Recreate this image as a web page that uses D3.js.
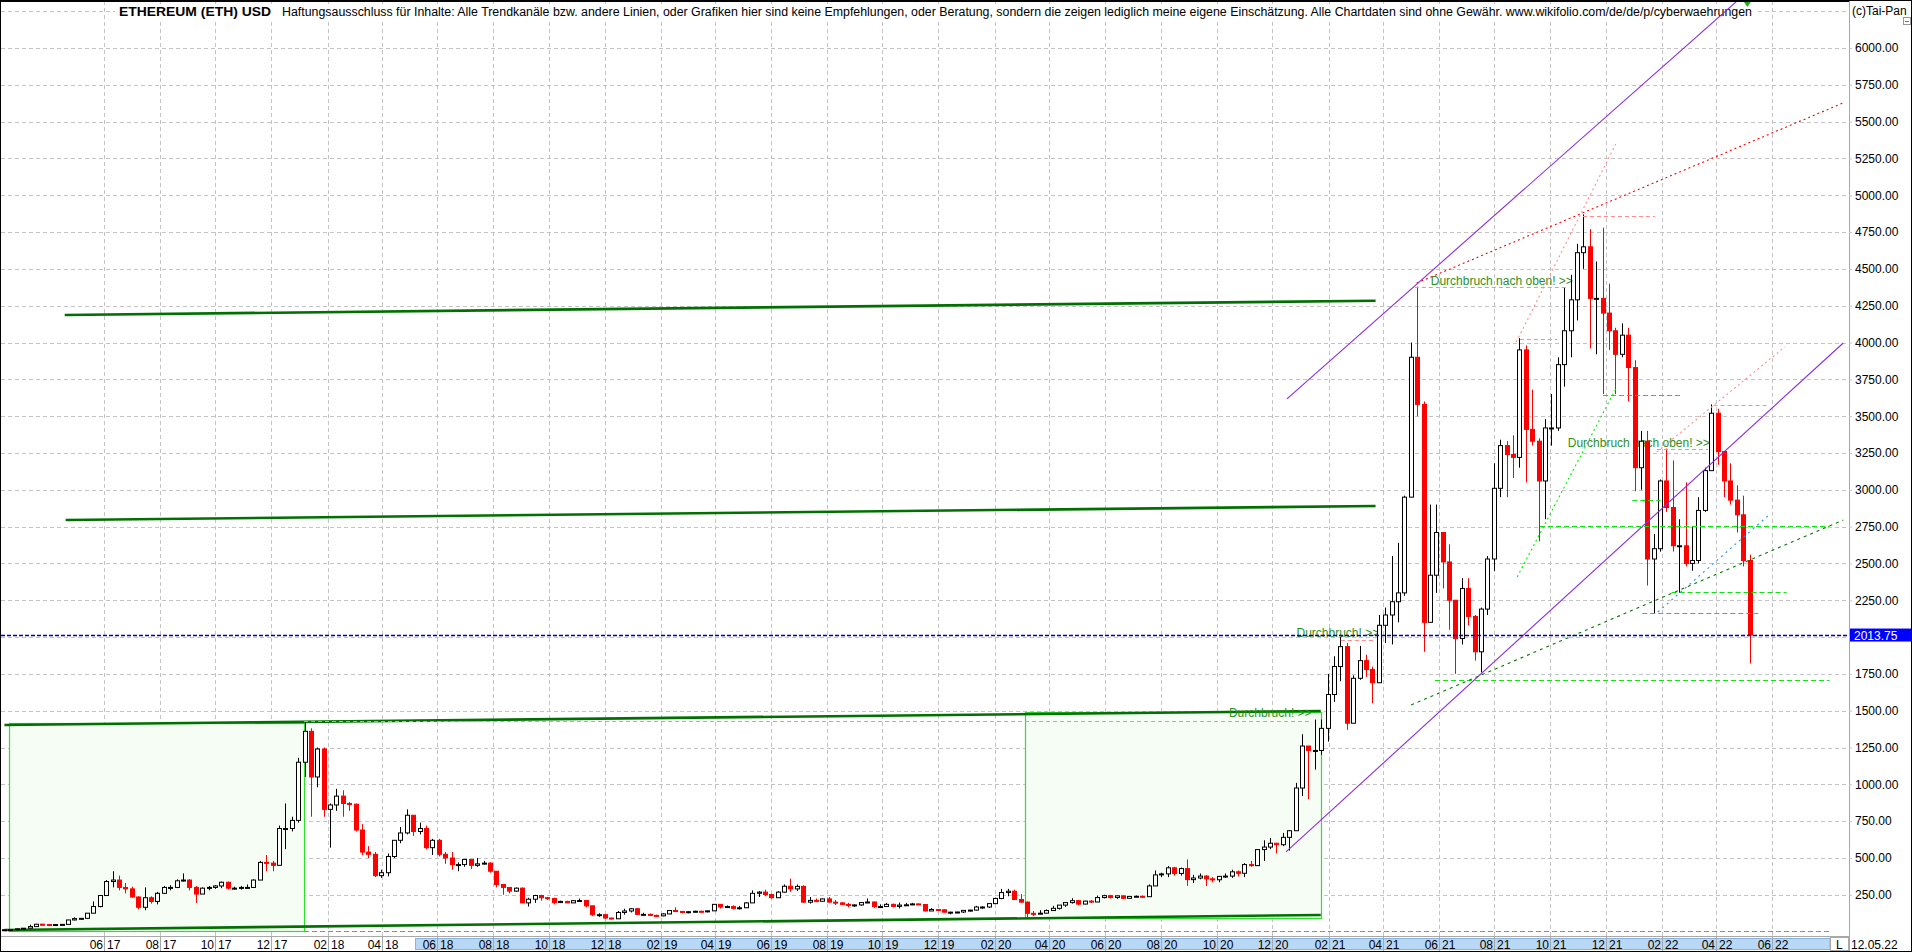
<!DOCTYPE html>
<html><head><meta charset="utf-8">
<script src="https://cdn.jsdelivr.net/npm/d3@7"></script>
<style>
html,body{margin:0;padding:0;background:#fff;overflow:hidden}
svg{display:block;font-family:"Liberation Sans",Arial,sans-serif}
</style></head><body>
<svg id="c" width="1912" height="952"></svg>
<script>
// ---------------- DATA ----------------
const titleText = "ETHEREUM (ETH) USD";
const disclaimerText = "Haftungsausschluss für Inhalte: Alle Trendkanäle bzw. andere Linien, oder Grafiken hier sind keine Empfehlungen, oder Beratung, sondern die zeigen lediglich meine eigene Einschätzung. Alle Chartdaten sind ohne Gewähr.  www.wikifolio.com/de/de/p/cyberwaehrungen";
const copyrightText = "(c)Tai-Pan";
const lastDateText = "12.05.22";
const lastPrice = 2013.75;

const firstWeek = "2017-02-13", lastWeek = "2022-05-09";
const firstOpen = 12.5;

const close2017 = [12.8,13.2,19.2,23,34,50,48,44,48,49,79,88,90,125,170,245,340,350,300,290,235,165,230,205,260,300,300,345,350,300,255,295,300,310,335,295,295,300,300,350,470,465,450,700,700,755];
const high2017  = [13.5,14,19.5,23,47,53,53,49,50,50,80,97,92,126,205,248,350,410,380,330,305,240,300,240,270,310,315,355,395,355,310,300,310,315,340,340,305,310,320,355,480,520,480,720,870,780];
const low2017   = [12.3,12.5,13.1,18,23,32,47,42,43,47,49,77,83,86,125,165,245,300,280,260,230,150,145,190,185,255,280,295,340,280,195,255,280,290,295,285,285,285,290,300,350,410,410,450,560,680];

const close2018 = [1150,1360,1050,1240,830,860,920,870,865,690,540,525,380,400,510,620,670,790,680,700,570,620,525,500,455,455,490,450,460,465,410,320,300,275,295,195,220,245,230,225,197,205,195,210,211,175,115,115,92,87,130,140,155];
const high2018  = [1180,1430,1380,1250,1250,870,970,960,880,870,730,580,540,420,530,620,710,830,790,740,720,630,630,540,540,470,490,490,500,480,470,410,320,300,300,300,230,250,250,235,230,210,210,215,225,215,175,125,115,95,140,155,160];
const low2018   = [740,1050,780,980,780,570,820,780,820,680,520,500,370,365,375,500,600,660,650,660,560,520,510,460,420,410,440,425,440,455,400,300,250,260,270,195,170,195,210,215,185,195,195,195,205,165,105,100,88,83,85,115,130];

const close2019 = [117,117,110,107,120,143,137,130,135,138,134,141,185,167,170,158,162,195,260,268,252,230,268,308,290,307,200,212,206,222,200,195,185,178,181,197,201,170,170,185,171,180,182,188,184,140,150,148,132,132,133,144];
const high2019  = [160,128,123,115,125,147,165,140,140,142,142,143,185,187,178,178,175,200,280,275,285,255,275,320,360,320,315,235,225,225,235,215,200,195,185,200,225,205,185,195,190,197,195,195,190,185,160,152,150,135,135,145];
const low2019   = [115,115,108,100,104,118,135,124,124,130,130,131,140,157,160,150,150,160,195,235,240,225,230,265,270,275,195,190,200,205,200,180,180,165,168,175,195,160,165,170,165,157,175,180,180,138,140,145,130,117,125,127];

const close2020 = [146,167,167,190,225,265,274,218,200,124,122,125,143,158,180,197,210,187,207,201,231,244,232,243,226,239,240,237,310,385,392,433,395,428,353,364,377,358,352,375,377,406,396,455,448,557,574,600,590,640,685,975];
const high2020  = [148,175,172,190,230,290,290,285,255,205,140,145,150,175,180,200,227,215,210,215,245,250,250,245,245,242,245,245,320,415,400,445,440,435,490,385,395,385,370,375,395,420,415,465,480,560,620,635,600,670,690,1010];
const low2020   = [136,143,155,160,187,220,240,215,197,90,105,118,125,150,150,168,190,180,185,195,200,225,225,222,220,222,237,232,235,310,370,370,380,380,310,330,355,310,335,335,365,365,375,370,440,445,480,560,530,580,550,710];

const close2021 = [1260,1230,1230,1380,1610,1800,1935,1415,1720,1840,1780,1690,2080,2150,2240,2300,2950,3900,3580,2100,2420,2710,2510,2250,1990,2330,2140,1900,2190,2530,3010,3300,3240,3220,3950,3410,3330,3060,3420,3420,3850,4080,4290,4610,4650,4300,4300,4200,4080,3920,4050,3830];
const high2021  = [1340,1260,1440,1440,1750,1870,2000,1960,1740,1940,1880,1800,2150,2200,2550,2640,2960,4000,4380,3600,2900,2900,2650,2630,2250,2400,2400,2150,2200,2550,3180,3340,3330,3370,4030,3980,3680,3350,3480,3650,3900,4370,4460,4670,4870,4770,4550,4780,4400,4100,4130,4100];
const low2021   = [920,900,1100,1200,1290,1560,1700,1370,1450,1710,1730,1550,1700,1960,1950,2100,2280,2950,3500,1900,2100,2300,2330,2050,1750,1950,2080,1840,1760,2150,2450,2950,2950,3080,3150,3050,3300,2650,2800,3300,3400,3700,3900,4150,4500,3960,3920,3650,3950,3650,3900,3600];

const close2022 = [3150,3330,2530,2600,3060,2880,2620,2620,2500,2520,2860,3130,3520,3260,3060,2930,2830,2520,2013.75];
const high2022  = [3880,3400,3400,2700,3070,3280,3200,2800,3050,2750,2950,3150,3580,3550,3260,3180,3030,2960,2560];
const low2022   = [2990,3000,2350,2160,2580,2850,2580,2300,2480,2450,2500,2850,3130,3170,2950,2900,2710,2480,1820];

const tickMonths = ["2017-06","2017-08","2017-10","2017-12","2018-02","2018-04","2018-06","2018-08","2018-10","2018-12",
  "2019-02","2019-04","2019-06","2019-08","2019-10","2019-12","2020-02","2020-04","2020-06","2020-08","2020-10","2020-12",
  "2021-02","2021-04","2021-06","2021-08","2021-10","2021-12","2022-02","2022-04","2022-06"];
const yTicks = [250,500,750,1000,1250,1500,1750,2000,2250,2500,2750,3000,3250,3500,3750,4000,4250,4500,4750,5000,5250,5500,5750,6000];

// drawn analysis objects (date, price)
const channelLines = [
  {from:["2017-04-19",4187], to:["2021-03-24",4284]},
  {from:["2017-04-20",2795], to:["2021-03-24",2890]},
  {from:["2017-02-12",1403], to:["2021-01-23",1498]},
  {from:["2017-02-12",11],   to:["2021-01-23",113]}
];
const rangeBoxes = [
  {from:["2017-02-17",4],  to:["2018-01-06",1417]},
  {from:["2020-03-05",95], to:["2021-01-23",1491]}
];
const resistances = [
  {from:["2018-01-06",1430], to:["2021-01-10",1430]},
  {from:["2021-02-14",1980], to:["2021-03-24",1980]},
  {from:["2021-05-06",4377], to:["2021-10-19",4377]},
  {from:["2021-08-29",4024], to:["2021-10-09",4024]},
  {from:["2021-11-06",4859], to:["2022-01-24",4859]},
  {from:["2022-01-26",3277], to:["2022-03-23",3277]},
  {from:["2022-03-29",3576], to:["2022-05-28",3576]}
];
const supports = [
  {from:["2018-01-06",4],    to:["2022-08-03",4]},
  {from:["2021-11-28",3644], to:["2022-02-22",3644]},
  {from:["2021-09-20",2754], to:["2022-08-03",2754]},
  {from:["2021-12-30",2931], to:["2022-01-30",2931]},
  {from:["2022-02-11",2306], to:["2022-06-17",2306]},
  {from:["2022-01-10",2164], to:["2022-05-17",2164]},
  {from:["2021-05-28",1709], to:["2022-08-03",1709]}
];
const trendLines = [
  {from:["2021-05-08",4404], to:["2022-08-18",5627], color:"#ff0000", dash:"2,3"},
  {from:["2020-12-17",3617], to:["2022-04-25",6326], color:"#8a2be2", dash:null},
  {from:["2020-12-16",541],  to:["2022-08-18",3997], color:"#8a2be2", dash:null},
  {from:["2021-08-25",4003], to:["2021-12-12",5348], color:"#ff8c8c", dash:"2,3"},
  {from:["2022-01-26",3257], to:["2022-06-15",3970], color:"#ff8c8c", dash:"2,3"},
  {from:["2021-08-26",2408], to:["2021-12-13",3698], color:"#00ee00", dash:"2,3"},
  {from:["2021-05-02",1539], to:["2022-08-18",2795], color:"#007a00", dash:"3,4"},
  {from:["2022-01-27",2170], to:["2022-05-30",2836], color:"#1e90ff", dash:"2,4"}
];
const notes = [
  {text:"Durchbruch! >>", at:["2021-01-13",1455]},
  {text:"Durchbruch! >>", at:["2021-03-28",1999]},
  {text:"Durchbruch nach oben! >>", at:["2021-10-26",4389]},
  {text:"Durchbruch nach oben! >>", at:["2022-03-25",3291]}
];
const markerDate = "2022-05-05";
const navBandStart = "2018-05-07";

// ---------------- BUILD ----------------
const P = s => new Date(s + "T00:00:00Z");
const closes = [].concat(close2017, close2018, close2019, close2020, close2021, close2022);
const highs  = [].concat(high2017, high2018, high2019, high2020, high2021, high2022);
const lows   = [].concat(low2017, low2018, low2019, low2020, low2021, low2022);
const weeks = d3.utcMonday.range(P(firstWeek), d3.utcDay.offset(P(lastWeek), 1));
const candles = weeks.map((w, i) => {
  const o = i === 0 ? firstOpen : closes[i - 1];
  const c = closes[i];
  return {date: d3.utcHour.offset(w, -36), o, c,
          h: Math.max(highs[i], o, c), l: Math.min(lows[i], o, c)};
});

const plotR = 1849, plotB = 936;
const x = d3.scaleUtc().domain([P("2017-06-01"), P("2022-06-01")]).range([104, 1772]);
const y = d3.scaleLinear().domain([0, 6000]).range([931.6, 48]);
const X = d => x(P(d)), Y = v => y(v);
const px = v => Math.round(v) + 0.5;

const svg = d3.select("#c");
svg.append("rect").attr("width", 1912).attr("height", 952).attr("fill", "#fff");
const defs = svg.append("defs");
defs.append("clipPath").attr("id", "plot").append("rect")
  .attr("x", 1).attr("y", 1).attr("width", plotR - 1).attr("height", plotB - 1);

const g = svg.append("g").attr("clip-path", "url(#plot)");

// grid
const tickDates = tickMonths.map(m => P(m + "-01"));
g.append("g").selectAll("line").data(yTicks.concat([6250])).join("line")
  .attr("x1", 1).attr("x2", plotR).attr("y1", d => px(y(d))).attr("y2", d => px(y(d)))
  .attr("stroke", "#c4c4c4").attr("stroke-dasharray", "4,3");
g.append("g").selectAll("line").data(tickDates).join("line")
  .attr("x1", d => px(x(d))).attr("x2", d => px(x(d))).attr("y1", 1).attr("y2", plotB)
  .attr("stroke", "#c4c4c4").attr("stroke-dasharray", "4,3");

// title (under the drawn lines)
g.append("rect").attr("x", 115).attr("y", 4).attr("width", 1642).attr("height", 15).attr("fill", "#fff");
g.append("text").attr("x", 119).attr("y", 16).attr("font-size", 12).attr("font-weight", "bold")
  .attr("textLength", 152).attr("lengthAdjust", "spacingAndGlyphs").text(titleText);
g.append("text").attr("x", 282).attr("y", 16).attr("font-size", 12)
  .attr("textLength", 1470).attr("lengthAdjust", "spacingAndGlyphs").text(disclaimerText);

// range boxes
g.append("g").selectAll("rect").data(rangeBoxes).join("rect")
  .attr("x", d => px(X(d.from[0]))).attr("y", d => px(Y(d.to[1])))
  .attr("width", d => Math.round(X(d.to[0]) - X(d.from[0])))
  .attr("height", d => Math.round(Y(d.from[1]) - Y(d.to[1])))
  .attr("fill", "#f5fdf5").attr("stroke", "#2ee02e").attr("stroke-width", 1.2);

// channel lines (thick dark green)
g.append("g").selectAll("line").data(channelLines).join("line")
  .attr("x1", d => X(d.from[0])).attr("y1", d => Y(d.from[1]))
  .attr("x2", d => X(d.to[0])).attr("y2", d => Y(d.to[1]))
  .attr("stroke", "#007000").attr("stroke-width", 2.6);

// notes
g.append("g").selectAll("text").data(notes).join("text")
  .attr("x", d => X(d.at[0])).attr("y", d => Y(d.at[1]))
  .attr("text-anchor", "end").attr("font-size", 12).attr("fill", "#2f8f1f")
  .text(d => d.text);

// candles
const cg = g.append("g");
candles.forEach(d => {
  const cx = Math.round(x(d.date));
  const up = d.c >= d.o;
  const col = up ? "#000" : "#ff0000";
  cg.append("line").attr("x1", cx + 0.5).attr("x2", cx + 0.5)
    .attr("y1", y(d.h)).attr("y2", y(d.l)).attr("stroke", col).attr("stroke-width", 1);
  const top = y(Math.max(d.o, d.c)), bot = y(Math.min(d.o, d.c));
  cg.append("rect").attr("x", cx - 1.5).attr("width", 4)
    .attr("y", top).attr("height", Math.max(1, bot - top))
    .attr("fill", up ? "#fff" : "#ff0000").attr("stroke", col).attr("stroke-width", 1);
});

// resistances / supports
g.append("g").selectAll("line").data(resistances).join("line")
  .attr("x1", d => X(d.from[0])).attr("x2", d => X(d.to[0]))
  .attr("y1", d => px(Y(d.from[1]))).attr("y2", d => px(Y(d.to[1])))
  .attr("stroke", "#ff8c8c").attr("stroke-dasharray", "4,3");
g.append("g").selectAll("line").data(supports).join("line")
  .attr("x1", d => X(d.from[0])).attr("x2", d => X(d.to[0]))
  .attr("y1", d => px(Y(d.from[1]))).attr("y2", d => px(Y(d.to[1])))
  .attr("stroke", "#11e011").attr("stroke-width", 1.1).attr("stroke-dasharray", "5,3");
// trend lines
g.append("g").selectAll("line").data(trendLines).join("line")
  .attr("x1", d => X(d.from[0])).attr("y1", d => Y(d.from[1]))
  .attr("x2", d => X(d.to[0])).attr("y2", d => Y(d.to[1]))
  .attr("stroke", d => d.color).attr("stroke-width", 1.1)
  .attr("stroke-dasharray", d => d.dash);
// last price line
g.append("line").attr("x1", 1).attr("x2", plotR)
  .attr("y1", px(y(lastPrice))).attr("y2", px(y(lastPrice)))
  .attr("stroke", "#0000b4").attr("stroke-width", 1.4).attr("stroke-dasharray", "4,2");

// marker at top
const mx = X(markerDate);
svg.append("path").attr("d", `M${mx - 4},1 L${mx + 4},1 L${mx},7 Z`).attr("fill", "#22aa22");

// right axis
svg.append("line").attr("x1", plotR + 0.5).attr("x2", plotR + 0.5).attr("y1", 0).attr("y2", 952).attr("stroke", "#a8a8a8");
const ya = svg.append("g").attr("transform", `translate(${plotR},0)`)
  .call(d3.axisRight(y).tickValues(yTicks).tickFormat(d3.format(".2f")).tickSize(3).tickPadding(3));
ya.select(".domain").remove();
ya.selectAll("text").attr("font-size", 12).attr("fill", "#000").attr("font-family", '"Liberation Sans",Arial,sans-serif');
ya.selectAll("line").attr("stroke", "#c4c4c4");
svg.append("text").attr("x", 1852).attr("y", 15).attr("font-size", 12).text(copyrightText);
svg.append("rect").attr("x", 1903.5).attr("y", 17.5).attr("width", 7).attr("height", 7).attr("fill", "#fff").attr("stroke", "#999");
svg.append("line").attr("x1", 1905).attr("x2", 1909).attr("y1", 21.5).attr("y2", 21.5).attr("stroke", "#777");
// last price label
svg.append("rect").attr("x", plotR + 1).attr("y", y(lastPrice) - 6.5).attr("width", 62).attr("height", 13).attr("fill", "#0000ff");
svg.append("text").attr("x", 1854).attr("y", y(lastPrice) + 4.5).attr("font-size", 12).attr("fill", "#fff")
  .text(d3.format(".2f")(lastPrice));

// x axis band
svg.append("line").attr("x1", 0).attr("x2", plotR).attr("y1", plotB + 0.5).attr("y2", plotB + 0.5).attr("stroke", "#a8a8a8");
svg.append("rect").attr("x", px(X(navBandStart))).attr("y", 938.5).attr("width", 1830 - Math.round(X(navBandStart)) - 0.5)
  .attr("height", 11).attr("fill", "#b9d8f6").attr("stroke", "#8ab2dc");
const xa = svg.append("g");
xa.selectAll("line").data(tickDates).join("line")
  .attr("x1", d => px(x(d))).attr("x2", d => px(x(d))).attr("y1", plotB).attr("y2", 951).attr("stroke", "#a8a8a8");
xa.selectAll("text.m").data(tickDates).join("text").attr("class", "m")
  .attr("x", d => Math.round(x(d)) - 1).attr("y", 948.5).attr("text-anchor", "end").attr("font-size", 12)
  .text(d3.utcFormat("%m"));
xa.selectAll("text.yy").data(tickDates).join("text").attr("class", "yy")
  .attr("x", d => Math.round(x(d)) + 3).attr("y", 948.5).attr("font-size", 12)
  .text(d3.utcFormat("%y"));
svg.append("rect").attr("x", 1830.5).attr("y", 937.5).attr("width", 18).attr("height", 13).attr("fill", "#fff").attr("stroke", "#a8a8a8");
svg.append("text").attr("x", 1836).attr("y", 948.5).attr("font-size", 12).text("L");
svg.append("text").attr("x", 1851).attr("y", 948.5).attr("font-size", 12).text(lastDateText);

// frame
svg.append("rect").attr("x", 0.5).attr("y", 0.5).attr("width", 1911).attr("height", 951)
  .attr("fill", "none").attr("stroke", "#000");
svg.append("line").attr("x1", 0).attr("x2", plotR).attr("y1", 1).attr("y2", 1).attr("stroke", "#000").attr("stroke-width", 2);
</script>
</body></html>
